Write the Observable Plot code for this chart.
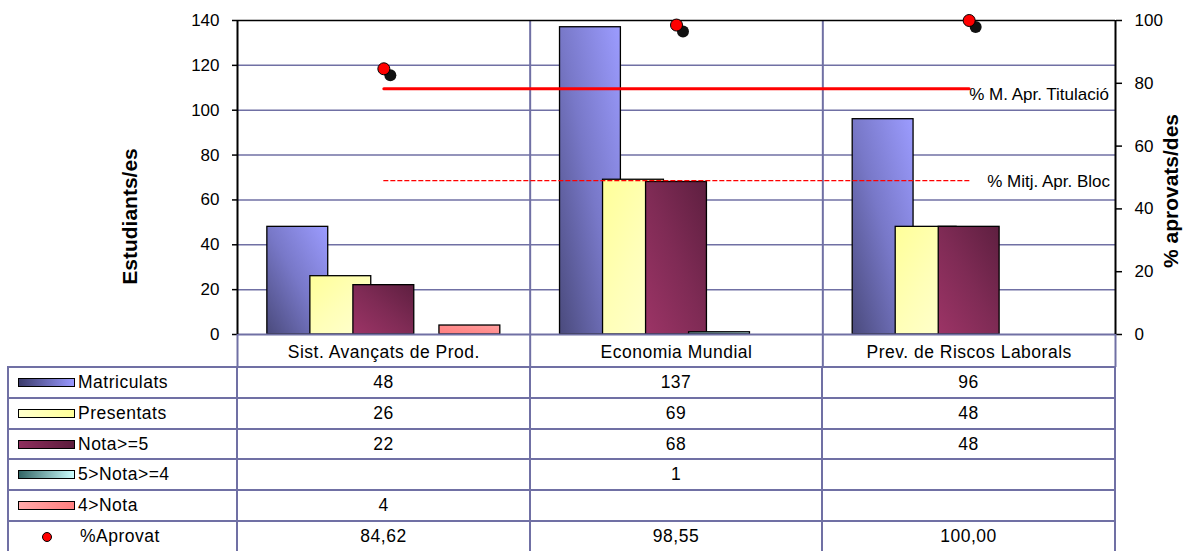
<!DOCTYPE html>
<html><head><meta charset="utf-8">
<script src="https://cdn.jsdelivr.net/npm/d3@7"></script>
<script src="https://cdn.jsdelivr.net/npm/@observablehq/plot@0.6"></script>
<style>
body{margin:0;background:#fff;}
#wrap{position:relative;width:1195px;height:551px;overflow:hidden;font-family:"Liberation Sans",Arial,sans-serif;font-size:17.5px;letter-spacing:0.5px;color:#000;background:#fff;}
#chart{position:absolute;left:0;top:0;letter-spacing:0;}
#table{position:absolute;left:7px;top:366px;display:grid;grid-template-columns:229px 293px 292px 293px;grid-auto-rows:30.83px;border-left:2px solid #7070a4;border-top:2px solid #7070a4;}
.c{box-sizing:border-box;border-right:2px solid #7070a4;border-bottom:2px solid #7070a4;display:flex;align-items:center;justify-content:center;white-space:nowrap;}
.lab{justify-content:flex-start;}
.sw{width:57px;height:9px;border:1.3px solid #000;box-sizing:border-box;margin-left:9px;margin-right:3px;flex:none;}
.dot{width:10px;height:10px;border-radius:50%;background:#ff0000;border:1px solid #000;box-sizing:border-box;margin-left:33px;margin-right:28px;flex:none;}
</style>
</head><body>
<div id="wrap"><div id="chart"></div><div id="table"></div></div>
<script>
// ---- data ----
const categories = ["Sist. Avançats de Prod.", "Economia Mundial", "Prev. de Riscos Laborals"];
const seriesNames = ["Matriculats", "Presentats", "Nota>=5", "5>Nota>=4", "4>Nota"];
const matriculats = [48, 137, 96];
const presentats = [26, 69, 48];
const notaMajor5 = [22, 68, 48];
const nota4a5 = [null, 1, null];
const notaMenor4 = [4, null, null];
const pctAprovat = [84.62, 98.55, 100.00];
const pctMitjTitulacio = 78.3;
const pctMitjBloc = 49.0;
const leftTicks = [0, 20, 40, 60, 80, 100, 120, 140];
const rightTicks = [0, 20, 40, 60, 80, 100];
const labelTitulacio = "% M. Apr. Titulació";
const labelBloc = "% Mitj. Apr. Bloc";
const yTitleLeft = "Estudiants/es";
const yTitleRight = "% aprovats/des";
const pctLabel = "%Aprovat";

// ---- styles ----
const GRID = "#7070a4";
const k = 140 / 100; // secondary axis conversion
const gradients = [
  {id: "g0", x1: 0, y1: 1, x2: 1, y2: 0, stops: ["#4a4a7c", "#7878c8", "#9c9cff"], css: "linear-gradient(to right,#3c3c6c,#9999ff)"},
  {id: "g1", x1: 0, y1: 0, x2: 1, y2: 1, stops: ["#ffff99", "#ffffb8", "#ffffd2"], css: "linear-gradient(to right,#ffffcc,#ffff99)"},
  {id: "g2", x1: 0, y1: 1, x2: 1, y2: 0, stops: ["#9c3466", "#7f2b55", "#5e1f40"], css: "linear-gradient(to right,#8e2f5e,#5c1c3c)"},
  {id: "g3", x1: 0, y1: 1, x2: 1, y2: 0, stops: ["#3d6b6b", "#88b4b4", "#ccffff"], css: "linear-gradient(to right,#336666,#ccffff)"},
  {id: "g4", x1: 0, y1: 1, x2: 1, y2: 0, stops: ["#ff7f7f", "#ff8c8c", "#ffa0a0"], css: "linear-gradient(to right,#ffaaaa,#ff8080)"}
];

const seriesValues = [matriculats, presentats, notaMajor5, nota4a5, notaMenor4];
const bars = [];
seriesValues.forEach((vals, j) => vals.forEach((v, i) => { if (v != null) bars.push({cat: categories[i], i, j, v}); }));
const STEP = 0.147, HALF = 0.104;
const xc = d => d.i + 0.5 + (d.j - (seriesNames.length - 1) / 2) * STEP;
const idx = categories.map((c, i) => i);
const last = [categories.length - 1];

const svg = Plot.plot({
  width: 1195, height: 367,
  marginLeft: 237, marginRight: 80, marginTop: 20, marginBottom: 33,
  x: {domain: [0, categories.length], axis: null},
  y: {domain: [0, 140], axis: null},
  style: {fontFamily: "'Liberation Sans', Arial, sans-serif", fontSize: "17px", background: "white", overflow: "visible"},
  marks: [
    Plot.ruleY(leftTicks.filter(t => t > 0 && t < 140), {stroke: GRID, strokeWidth: 1.5}),
    Plot.ruleX([1, 2], {stroke: GRID, strokeWidth: 2}),
    ...seriesNames.map((s, j) => Plot.rect(bars.filter(b => b.j === j), {
      x1: d => xc(d) - HALF, x2: d => xc(d) + HALF, y1: () => 0, y2: "v",
      fill: `url(#g${j})`, stroke: "#000", strokeWidth: 1.3
    })),
    Plot.ruleY([0], {stroke: GRID, strokeWidth: 2}),
    Plot.ruleY([140], {stroke: "#000", strokeWidth: 1.5}),
    Plot.ruleX([0, categories.length], {stroke: "#000", strokeWidth: 2}),
    Plot.line(idx, {x: i => i + 0.5, y: () => pctMitjTitulacio * k, stroke: "#ff0000", strokeWidth: 3}),
    Plot.line(idx, {x: i => i + 0.5, y: () => pctMitjBloc * k, stroke: "#ff0000", strokeWidth: 1.3, strokeDasharray: "4,3"}),
    Plot.text(last, {x: i => i + 0.5, y: () => pctMitjTitulacio * k, text: () => labelTitulacio, textAnchor: "start", dy: 6, fill: "#000"}),
    Plot.text(last, {x: i => i + 0.5, y: () => pctMitjBloc * k, text: () => labelBloc, textAnchor: "start", dx: 18, dy: 1, fill: "#000"}),
    Plot.dot(idx, {x: i => i + 0.5, y: i => pctAprovat[i] * k, r: 6, fill: "#111", dx: 6.5, dy: 6.5}),
    Plot.dot(idx, {x: i => i + 0.5, y: i => pctAprovat[i] * k, r: 6, fill: "#ff0000", stroke: "#000", strokeWidth: 1}),
    Plot.axisY(leftTicks, {anchor: "left", tickSize: 5, tickPadding: 13, label: null, strokeWidth: 1.5}),
    Plot.axisY(rightTicks.map(t => t * k), {anchor: "right", tickSize: 6, tickPadding: 13, label: null, strokeWidth: 1.5, tickFormat: d => String(Math.round(d / k))}),
    Plot.axisX(d3.range(categories.length + 1), {anchor: "bottom", tickSize: 33, tickFormat: () => "", stroke: GRID, strokeWidth: 2, label: null}),
    Plot.axisX(idx.map(i => i + 0.5), {anchor: "bottom", tickSize: 0, tickPadding: 11, fontSize: 17.5, tickFormat: d => categories[Math.floor(d)], label: null}),
    Plot.text([yTitleLeft], {frameAnchor: "left", text: d => d, rotate: -90, textAnchor: "middle", dx: -107, dy: 39, fontWeight: "bold", fontSize: 21, fill: "#000"}),
    Plot.text([yTitleRight], {frameAnchor: "right", text: d => d, rotate: -90, textAnchor: "middle", dx: 56, dy: 13.5, fontWeight: "bold", fontSize: 21, fill: "#000"})
  ]
});

const defs = d3.select(svg).insert("defs", ":first-child");
gradients.forEach(g => {
  const lg = defs.append("linearGradient").attr("id", g.id)
    .attr("x1", g.x1).attr("y1", g.y1).attr("x2", g.x2).attr("y2", g.y2);
  g.stops.forEach((c, n) => lg.append("stop").attr("offset", n / (g.stops.length - 1)).attr("stop-color", c));
});
d3.select(svg).selectAll("g[aria-label='x-axis tick label'] text").style("letter-spacing", "0.5px");
document.getElementById("chart").appendChild(svg);

// ---- data table ----
const table = document.getElementById("table");
function cell(html, cls) { const d = document.createElement("div"); d.className = "c" + (cls ? " " + cls : ""); d.innerHTML = html; table.appendChild(d); return d; }
seriesNames.forEach((s, j) => {
  const lc = cell("", "lab");
  const sw = document.createElement("div"); sw.className = "sw"; sw.style.background = gradients[j].css; lc.appendChild(sw);
  lc.appendChild(document.createTextNode(s));
  seriesValues[j].forEach(v => cell(v == null ? "" : String(v)));
});
const pc = cell("", "lab");
const dt = document.createElement("div"); dt.className = "dot"; pc.appendChild(dt);
pc.appendChild(document.createTextNode(pctLabel));
pctAprovat.forEach(v => cell(v.toFixed(2).replace(".", ",")));
</script>
</body></html>
